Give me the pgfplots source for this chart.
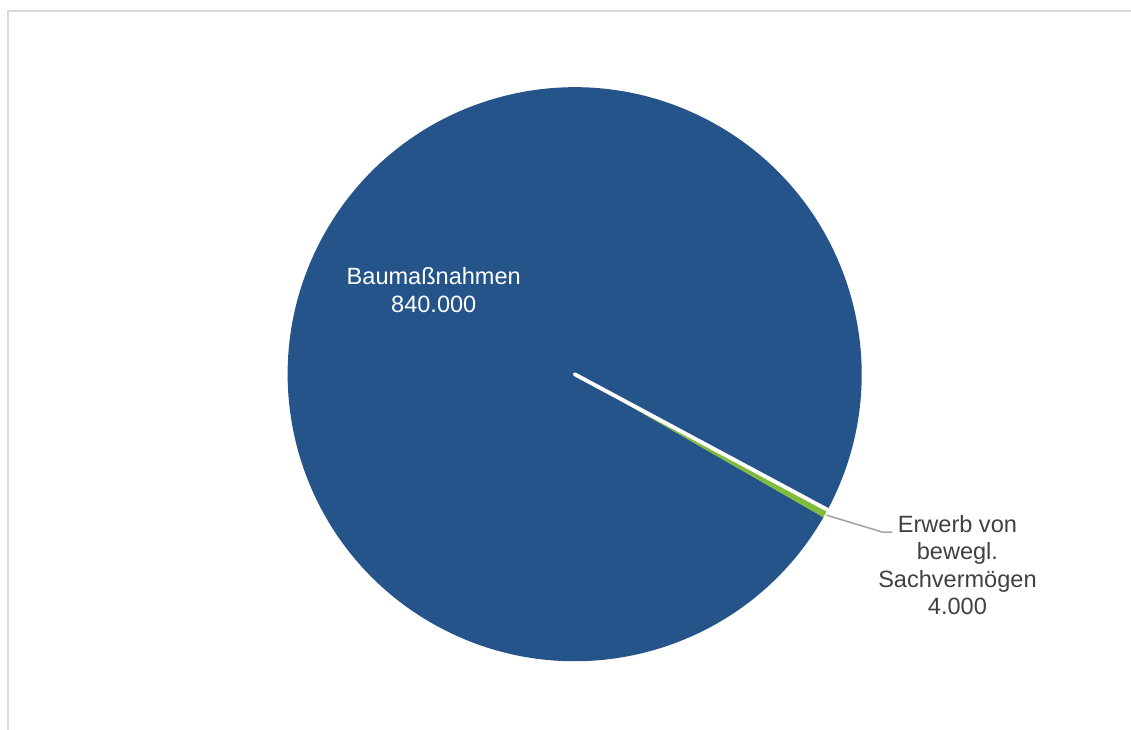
\documentclass[border=0pt]{standalone}
\usepackage{pgfplots}
\pgfplotsset{compat=1.18}
\usepackage{pgfplotstable}
\usepackage{fontspec}
\setmainfont{Liberation Sans}
\definecolor{pieblue}{HTML}{24548A}
\definecolor{piegreen}{HTML}{80BC3C}
\definecolor{labelgray}{HTML}{404040}
\definecolor{framegray}{HTML}{D9D9D9}
\definecolor{leadergray}{HTML}{A6A6A6}
\pgfplotstableread[col sep=comma]{
name,value
Baumassnahmen,840000
Erwerb,4000
}\piedata
\begin{document}%
\begin{tikzpicture}
\pgfplotstablegetelem{0}{value}\of\piedata \let\va\pgfplotsretval
\pgfplotstablegetelem{1}{value}\of\piedata \let\vb\pgfplotsretval
\edef\sa{-28.2}
\edef\ea{\fpeval{round(\sa+360*\va/(\va+\vb),4)}}
\edef\eb{\fpeval{\sa+360}}
\useasboundingbox (0,0) rectangle (11.31cm,7.29cm);
\clip (0,0) rectangle (11.31cm,7.29cm);
\begin{axis}[
  at={(0,0)}, anchor=south west,
  x=0.01cm, y=0.01cm,
  xmin=0, xmax=1131, ymin=0, ymax=729,
  scale only axis, hide axis, clip=false,
]
% frame
\draw[framegray, line width=0.6pt] (axis cs:8,718.5) rectangle (axis cs:1200,-50);
% Baumassnahmen slice
\fill[pieblue] (axis cs:575,355) -- ++(\sa:2.87cm) arc[start angle=\sa, end angle=\ea, radius=2.87cm] -- cycle;
% Erwerb slice
\fill[piegreen] (axis cs:575,355) -- ++(\ea:2.87cm) arc[start angle=\ea, end angle=\eb, radius=2.87cm] -- cycle;
% white separator
\draw[white, line width=1.1pt, line cap=round] (axis cs:575,355) -- ++(\sa:2.87cm);
% leader line
\addplot[leadergray, line width=0.45pt, no marks] coordinates {(827,214) (883,197) (893,197)};
% labels
\node[white, align=center, font=\fontsize{6.7}{8.1}\selectfont] at (axis cs:434,439) {Baumaßnahmen\\840.000};
\node[labelgray, align=center, font=\fontsize{6.7}{7.7}\selectfont] at (axis cs:958,164) {Erwerb von\\bewegl.\\Sachvermögen\\4.000};
\end{axis}
\end{tikzpicture}%
\end{document}
